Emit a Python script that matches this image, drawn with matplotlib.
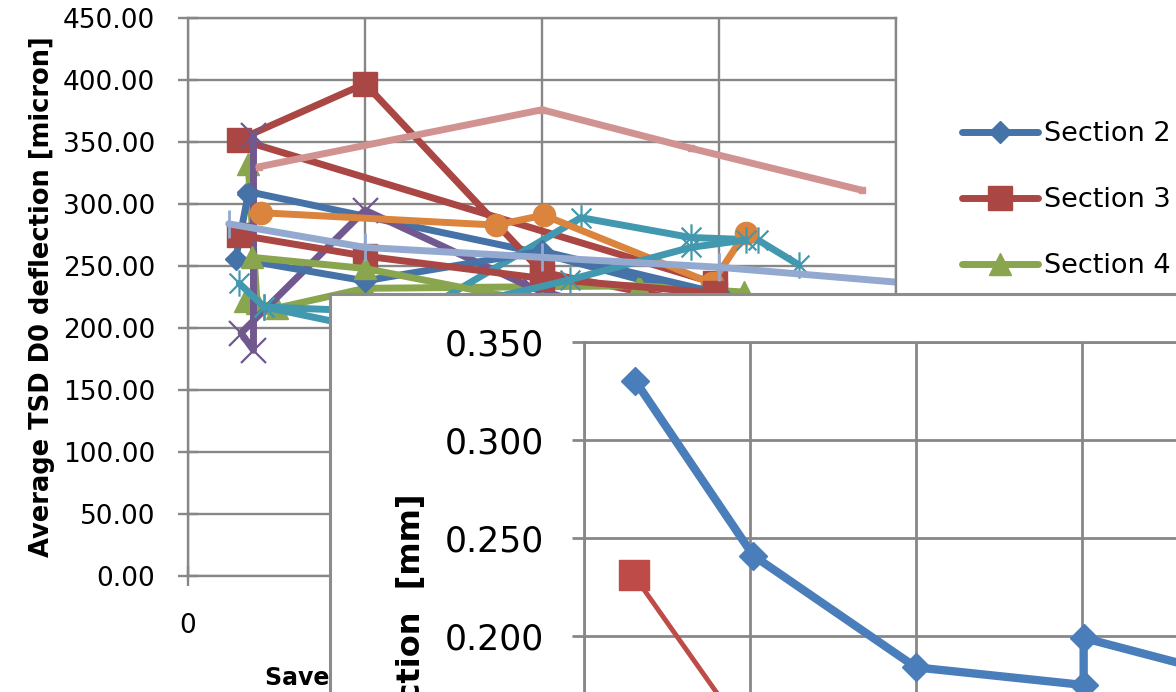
import matplotlib
matplotlib.use("Agg")
import matplotlib.pyplot as plt
from matplotlib.patches import Rectangle
from matplotlib.path import Path

# =====================================================
# DATA - background chart (micron)
# =====================================================

s2_x = [0.34, 2.0, 3.0, 3.5]
s2_y = [310, 260, 222, 212]

s3_x = [2.98, 0.29, 1.0, 2.0, 3.4]
s3_y = [236, 352, 397, 245, 205]

s4_x = [0.34, 0.39, 0.32, 0.5, 1.0, 2.55, 3.14]
s4_y = [332, 220, 222, 216, 232, 234, 229]

s5_x = [0.37, 0.37, 0.30, 1.0, 1.95, 2.6]
s5_y = [356, 182, 196, 295, 232, 205]

s6_x = [0.29, 0.43, 1.3, 2.22, 2.84, 3.22, 3.45]
s6_y = [236, 217, 212, 289, 273, 271, 251]

s7_x = [0.41, 1.74, 2.01, 2.96, 3.15]
s7_y = [293, 283, 291, 236, 277]

s8_x = [0.34, 0.27, 1.0, 2.0, 3.0]
s8_y = [308, 256, 238, 262, 228]

s9_x = [0.29, 1.0, 2.0, 2.98, 3.5]
s9_y = [275, 258, 240, 228, 205]

s10_x = [0.36, 1.0, 2.0, 3.0]
s10_y = [257, 248, 220, 215]

s11_x = [0.43, 1.0, 2.16, 2.84, 3.15]
s11_y = [217, 200, 239, 265, 271]

s12_x = [0.40, 2.0, 2.84, 3.81]
s12_y = [330, 376, 345, 311]

s13_x = [0.23, 1.0, 2.0, 3.0, 4.0]
s13_y = [284, 265, 257, 249, 237]

x_ticks = [0, 1, 2, 3, 4]
y_ticks = [0, 50, 100, 150, 200, 250, 300, 350, 400, 450]

# =====================================================
# DATA - overlaid chart (mm)
# =====================================================

in_blue_x = [0.31, 1.02, 2.0, 3.01, 3.01, 4.0]
in_blue_y = [0.330, 0.241, 0.184, 0.175, 0.199, 0.177]

in_red_x = [0.30, 1.0]
in_red_y = [0.231, 0.147]

in_y_ticks = [0.05, 0.10, 0.15, 0.20, 0.25, 0.30, 0.35]

# =====================================================
# STYLE
# =====================================================

BLUE = "#4572A7"
RED = "#AA4643"
GREEN = "#89A54E"
PURPLE = "#71588F"
AQUA = "#4198AF"
ORANGE = "#DB843D"
LBLUE = "#93A9CF"
PINK = "#D19392"
GRID = "#878787"

star = Path(
    [(0, -1), (0, 1), (-0.75, -0.75), (0.75, 0.75), (-0.75, 0.75), (0.75, -0.75)],
    [Path.MOVETO, Path.LINETO, Path.MOVETO, Path.LINETO, Path.MOVETO, Path.LINETO]
)

series = [
    (s2_x, s2_y, "Section 2", BLUE, "D", 11, 1),
    (s3_x, s3_y, "Section 3", RED, "s", 17, 1),
    (s4_x, s4_y, "Section 4", GREEN, "^", 16, 1),
    (s5_x, s5_y, "Section 5", PURPLE, "x", 18, 1.6),
    (s6_x, s6_y, "Section 6", AQUA, star, 19, 1.6),
    (s7_x, s7_y, "Section 7", ORANGE, "o", 16, 1),
    (s8_x, s8_y, "Section 8", BLUE, "D", 11, 1),
    (s9_x, s9_y, "Section 9", RED, "s", 17, 1),
    (s10_x, s10_y, "Section 10", GREEN, "^", 16, 1),
    (s11_x, s11_y, "Section 11", AQUA, star, 19, 1.6),
    (s12_x, s12_y, "Section 12", PINK, "s", 5, 1),
    (s13_x, s13_y, "Section 13", LBLUE, "|", 20, 2),
]

W, H = 1176, 692


def box(l, t, r, b):
    return [l / W, 1 - b / H, (r - l) / W, (b - t) / H]


fig = plt.figure(figsize=(W / 100, H / 100), dpi=100)

# =====================================================
# BACKGROUND CHART
# =====================================================

ax = fig.add_axes(box(188, 18, 896, 576))

for sx, sy, name, col, mk, ms, mew in series:
    ax.plot(
        sx, sy,
        color=col,
        linewidth=5,
        marker=mk,
        markersize=ms,
        markerfacecolor=col,
        markeredgecolor=col,
        markeredgewidth=mew,
        solid_capstyle="round",
        solid_joinstyle="round",
        label=name
    )

ax.set_xlim(0, 4)
ax.set_ylim(0, 450)
ax.set_xticks(x_ticks)
ax.set_yticks(y_ticks)
ax.set_yticklabels([f"{v:.2f}" for v in y_ticks])
ax.grid(True, color=GRID, linewidth=1.7)
ax.set_axisbelow(True)
for sp in ax.spines.values():
    sp.set_color(GRID)
    sp.set_linewidth(1.7)
ax.tick_params(axis="both", direction="inout", length=15, width=1.7,
               color=GRID, labelsize=19)
ax.tick_params(axis="y", pad=16)
ax.tick_params(axis="x", pad=19)

ax.set_ylabel("Average TSD D0 deflection [micron]",
              fontsize=18.5, fontweight="bold", labelpad=6)

ax.legend(
    loc="upper left",
    bbox_to_anchor=(962 / W, 1 - 121 / H),
    bbox_transform=fig.transFigure,
    frameon=False,
    fontsize=19.5,
    numpoints=1,
    handlelength=2.8,
    handletextpad=0.22,
    labelspacing=1.48,
    borderpad=0,
    borderaxespad=0
)

fig.text(265 / W, 1 - 678 / H, "Saved time since first survey [years]",
         fontsize=17, fontweight="bold", va="center", ha="left", zorder=5)

# =====================================================
# OVERLAID CHART
# =====================================================

frame = Rectangle((330 / W, -1), 2, 1 + (1 - 294 / H),
                  transform=fig.transFigure, facecolor="white",
                  edgecolor="#8C8C8C", linewidth=2.2, zorder=10)
fig.add_artist(frame)

ax2 = fig.add_axes(box(584, 342, 584 + 166 * 5, 342 + 98 * 6), zorder=11)

ax2.plot(in_blue_x, in_blue_y, color="#4A7EBB", linewidth=6,
         marker="D", markersize=14, solid_joinstyle="round")
ax2.plot(in_red_x, in_red_y, color="#BE4B48", linewidth=3.5,
         marker="s", markersize=21)

ax2.set_xlim(0, 5)
ax2.set_ylim(0.05, 0.35)
ax2.set_yticks(in_y_ticks)
ax2.set_yticklabels([f"{v:.3f}" for v in in_y_ticks])
ax2.set_xticks([0, 1, 2, 3, 4, 5])
ax2.grid(True, color=GRID, linewidth=2)
ax2.set_axisbelow(True)
for sp in ax2.spines.values():
    sp.set_color(GRID)
    sp.set_linewidth(2)
ax2.tick_params(axis="both", direction="out", length=9, width=2,
                color=GRID, labelsize=25, pad=20)
ax2.tick_params(axis="x", labelbottom=False)

fig.text(411 / W, 1 - 493 / H, "Average TSD D0 deflection  [mm]",
         rotation=90, ha="center", va="top",
         fontsize=23, fontweight="bold", zorder=12)

fig.savefig("out.png", dpi=100)
